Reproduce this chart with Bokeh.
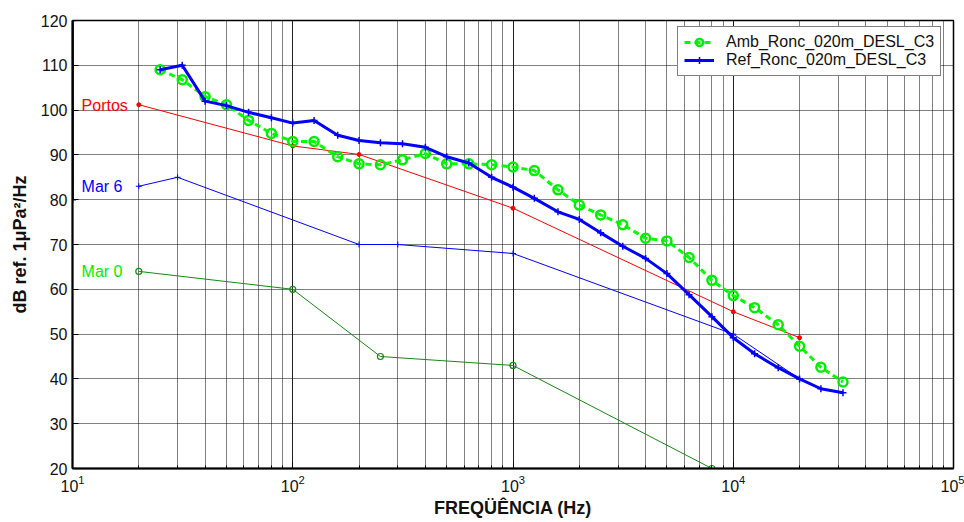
from bokeh.plotting import figure
from bokeh.models import Range1d, FixedTicker, LogTicker, Legend, LegendItem
from bokeh.core.properties import value
from bokeh.embed import file_html
from bokeh.resources import INLINE

# ---- data ----
freq_third = [25, 31.5, 40, 50, 63, 80, 100, 125, 160, 200, 250, 315, 400, 500, 630, 800,
              1000, 1250, 1600, 2000, 2500, 3150, 4000, 5000, 6300, 8000, 10000, 12500,
              16000, 20000, 25000, 31500]
amb_db = [109.0, 106.8, 103.0, 101.2, 97.7, 94.8, 93.0, 93.0, 89.6, 88.0, 87.8, 88.9, 90.3,
          88.0, 88.0, 87.8, 87.3, 86.5, 82.2, 78.8, 76.6, 74.4, 71.4, 70.8, 67.1, 62.0,
          58.6, 55.9, 52.1, 47.3, 42.6, 39.3]
ref_db = [109.0, 110.0, 102.0, 101.0, 99.5, 98.3, 97.1, 97.7, 94.4, 93.2, 92.7, 92.5, 91.7,
          89.6, 88.2, 85.0, 82.8, 80.3, 77.3, 75.6, 72.6, 69.6, 66.9, 63.5, 58.8, 53.9,
          49.2, 45.6, 42.5, 40.0, 37.8, 36.9]
ref_edge_x = [10, 10]
ref_edge_y = [80, 120]

portos_f = [20, 100, 200, 1000, 10000, 20000]
portos_db = [101.2, 92.0, 90.1, 78.1, 55.0, 49.2]
mar6_f = [20, 30, 200, 300, 1000, 10000, 20000]
mar6_db = [83.0, 85.0, 70.0, 70.0, 68.0, 50.0, 40.0]
mar0_f = [20, 100, 250, 1000, 8000]
mar0_db = [64.0, 60.0, 45.0, 43.0, 20.0]

curve_labels = ["Portos", "Mar 6", "Mar 0"]
label_x = [11, 11, 11]
label_y = [101.0, 83.0, 64.0]
label_colors = ["#ff0000", "#0000ff", "#00ee00"]

y_ticks = [20, 30, 40, 50, 60, 70, 80, 90, 100, 110, 120]
x_label = "FREQÜÊNCIA (Hz)"
y_label = "dB ref. 1μPa²/Hz"
legend_names = ["Amb_Ronc_020m_DESL_C3", "Ref_Ronc_020m_DESL_C3"]

FONT = "Liberation Sans"

p = figure(width=964, height=522, x_axis_type="log", output_backend="svg",
           toolbar_location=None, x_range=Range1d(10, 1e5), y_range=Range1d(20, 120),
           min_border_left=72, min_border_right=11, min_border_top=20, min_border_bottom=54)
p.background_fill_color = "white"
p.border_fill_color = "white"
p.outline_line_color = "black"
p.outline_line_width = 1.5

# axes
p.xaxis.ticker = LogTicker(num_minor_ticks=10)
p.yaxis.ticker = FixedTicker(ticks=y_ticks, minor_ticks=[])
for ax in (p.xaxis[0], p.yaxis[0]):
    ax.axis_line_color = "black"
    ax.axis_line_width = 2
    ax.major_tick_in = 6
    ax.major_tick_out = 0
    ax.minor_tick_in = 3
    ax.minor_tick_out = 0
    ax.major_tick_line_color = "black"
    ax.minor_tick_line_color = "black"
    ax.major_label_text_font = FONT
    ax.major_label_text_font_size = "16px"
    ax.major_label_text_color = "#111111"
    ax.axis_label_text_font = FONT
    ax.axis_label_text_font_style = "bold"
    ax.axis_label_text_font_size = "18px"
    ax.axis_label_text_color = "#111111"
p.xaxis.axis_label = x_label
p.yaxis.axis_label = y_label
p.xaxis.major_label_standoff = 6
p.yaxis.major_label_standoff = 5
p.xaxis.axis_label_standoff = 3
p.yaxis.axis_label_standoff = 8

# grid
for g in (p.xgrid[0], p.ygrid[0]):
    g.grid_line_color = "black"
    g.grid_line_dash = "1 1"
    g.grid_line_width = 1
    g.grid_line_alpha = 1
p.xgrid.minor_grid_line_color = "black"
p.xgrid.minor_grid_line_dash = "1 1"
p.xgrid.minor_grid_line_alpha = 1
p.ygrid.ticker = FixedTicker(ticks=y_ticks)

# reference curves (thin)
p.line(portos_f, portos_db, line_color="#ff0000", line_width=1)
p.scatter(portos_f, portos_db, marker="circle", size=4, color="#ff0000")
p.line(mar6_f, mar6_db, line_color="#0000ff", line_width=1)
p.scatter(mar6_f, mar6_db, marker="cross", size=6, line_color="#0000ff", line_width=1)
p.line(mar0_f, mar0_db, line_color="#138a13", line_width=1)
p.scatter(mar0_f, mar0_db, marker="circle", size=6, line_color="#138a13", fill_alpha=0, line_width=1.2)

# measured curves
amb_l = p.line(freq_third, amb_db, line_color="#00ff00", line_width=3, line_dash="6 4")
amb_s = p.scatter(freq_third, amb_db, marker="circle", size=9, line_color="#00ee00",
                  fill_alpha=0, line_width=2.5)
ref_l = p.line(freq_third, ref_db, line_color="#0000ff", line_width=3)
ref_s = p.scatter(freq_third, ref_db, marker="cross", size=7, line_color="#0000ff", line_width=1.5)
p.line(ref_edge_x, ref_edge_y, line_color="#0000ff", line_width=3)
p.scatter(ref_edge_x, ref_edge_y, marker="cross", size=7, line_color="#0000ff", line_width=1.5)

p.text(x=label_x, y=label_y, text=curve_labels, text_color=label_colors,
       text_font=value(FONT), text_font_size="16px", text_baseline="middle", text_align="left")

legend = Legend(items=[LegendItem(label=legend_names[0], renderers=[amb_l, amb_s]),
                       LegendItem(label=legend_names[1], renderers=[ref_l, ref_s])],
                location=(605, 392))
legend.margin = 0
legend.padding = 6
legend.spacing = 0
legend.label_height = 18
legend.glyph_height = 18
legend.glyph_width = 30
legend.label_standoff = 12
legend.label_text_font = FONT
legend.label_text_font_size = "16px"
legend.label_text_color = "#111111"
legend.border_line_color = "black"
legend.border_line_width = 1.5
legend.background_fill_color = "white"
legend.background_fill_alpha = 1
p.add_layout(legend, "center")

open("out.html", "w").write(file_html(p, INLINE))
